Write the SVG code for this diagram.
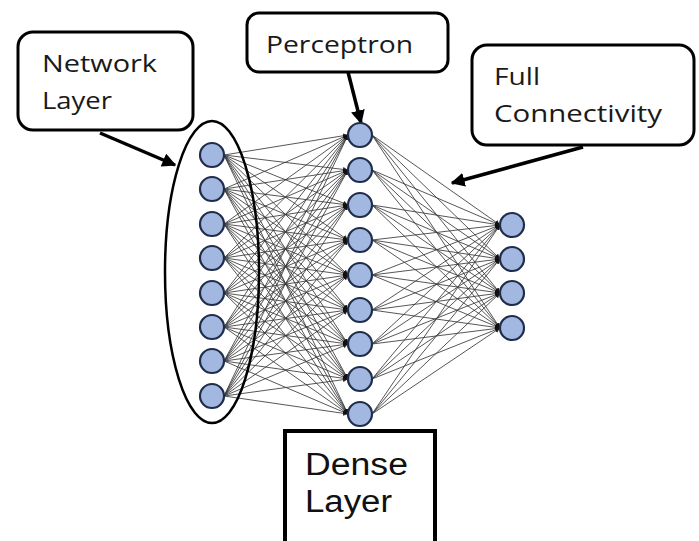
<svg xmlns="http://www.w3.org/2000/svg" width="699" height="541" viewBox="0 0 699 541">
<style>
.box{fill:#fff;stroke:#000;stroke-width:3}
.lbl{font-family:"Open Sans","Liberation Sans",sans-serif;font-size:24px;fill:#1a1a1a}
.big{font-family:"Liberation Sans","Open Sans",sans-serif;font-size:31px;fill:#111}
.node{fill:#a3b8e0;stroke:#1f2d4a;stroke-width:2.2}
.e{stroke:#3a3a3a;stroke-width:1;opacity:0.85;marker-end:url(#tip)}
.ptr{stroke:#000;stroke-width:3.5;fill:none;marker-end:url(#arr)}
</style>
<defs>
<marker id="tip" viewBox="0 0 10 10" refX="10" refY="5" markerWidth="5" markerHeight="5" markerUnits="userSpaceOnUse" orient="auto"><path d="M0,0L10,5L0,10z" fill="#111"/></marker>
<marker id="arr" viewBox="0 0 10 10" refX="9" refY="5" markerWidth="4" markerHeight="4" orient="auto"><path d="M0,0L10,5L0,10z" fill="#000"/></marker>
</defs>
<rect width="699" height="541" fill="#fff"/>
<g id="connectors">
<g id="edges12">
<line class="e" x1="224" y1="155" x2="348" y2="135"/><line class="e" x1="224" y1="155" x2="348" y2="170"/><line class="e" x1="224" y1="155" x2="348" y2="205"/><line class="e" x1="224" y1="155" x2="348" y2="240"/><line class="e" x1="224" y1="155" x2="348" y2="275"/><line class="e" x1="224" y1="155" x2="348" y2="310"/><line class="e" x1="224" y1="155" x2="348" y2="344"/><line class="e" x1="224" y1="155" x2="348" y2="379"/><line class="e" x1="224" y1="155" x2="348" y2="414"/>
<line class="e" x1="224" y1="189" x2="348" y2="135"/><line class="e" x1="224" y1="189" x2="348" y2="170"/><line class="e" x1="224" y1="189" x2="348" y2="205"/><line class="e" x1="224" y1="189" x2="348" y2="240"/><line class="e" x1="224" y1="189" x2="348" y2="275"/><line class="e" x1="224" y1="189" x2="348" y2="310"/><line class="e" x1="224" y1="189" x2="348" y2="344"/><line class="e" x1="224" y1="189" x2="348" y2="379"/><line class="e" x1="224" y1="189" x2="348" y2="414"/>
<line class="e" x1="224" y1="224" x2="348" y2="135"/><line class="e" x1="224" y1="224" x2="348" y2="170"/><line class="e" x1="224" y1="224" x2="348" y2="205"/><line class="e" x1="224" y1="224" x2="348" y2="240"/><line class="e" x1="224" y1="224" x2="348" y2="275"/><line class="e" x1="224" y1="224" x2="348" y2="310"/><line class="e" x1="224" y1="224" x2="348" y2="344"/><line class="e" x1="224" y1="224" x2="348" y2="379"/><line class="e" x1="224" y1="224" x2="348" y2="414"/>
<line class="e" x1="224" y1="258" x2="348" y2="135"/><line class="e" x1="224" y1="258" x2="348" y2="170"/><line class="e" x1="224" y1="258" x2="348" y2="205"/><line class="e" x1="224" y1="258" x2="348" y2="240"/><line class="e" x1="224" y1="258" x2="348" y2="275"/><line class="e" x1="224" y1="258" x2="348" y2="310"/><line class="e" x1="224" y1="258" x2="348" y2="344"/><line class="e" x1="224" y1="258" x2="348" y2="379"/><line class="e" x1="224" y1="258" x2="348" y2="414"/>
<line class="e" x1="224" y1="293" x2="348" y2="135"/><line class="e" x1="224" y1="293" x2="348" y2="170"/><line class="e" x1="224" y1="293" x2="348" y2="205"/><line class="e" x1="224" y1="293" x2="348" y2="240"/><line class="e" x1="224" y1="293" x2="348" y2="275"/><line class="e" x1="224" y1="293" x2="348" y2="310"/><line class="e" x1="224" y1="293" x2="348" y2="344"/><line class="e" x1="224" y1="293" x2="348" y2="379"/><line class="e" x1="224" y1="293" x2="348" y2="414"/>
<line class="e" x1="224" y1="327" x2="348" y2="135"/><line class="e" x1="224" y1="327" x2="348" y2="170"/><line class="e" x1="224" y1="327" x2="348" y2="205"/><line class="e" x1="224" y1="327" x2="348" y2="240"/><line class="e" x1="224" y1="327" x2="348" y2="275"/><line class="e" x1="224" y1="327" x2="348" y2="310"/><line class="e" x1="224" y1="327" x2="348" y2="344"/><line class="e" x1="224" y1="327" x2="348" y2="379"/><line class="e" x1="224" y1="327" x2="348" y2="414"/>
<line class="e" x1="224" y1="361" x2="348" y2="135"/><line class="e" x1="224" y1="361" x2="348" y2="170"/><line class="e" x1="224" y1="361" x2="348" y2="205"/><line class="e" x1="224" y1="361" x2="348" y2="240"/><line class="e" x1="224" y1="361" x2="348" y2="275"/><line class="e" x1="224" y1="361" x2="348" y2="310"/><line class="e" x1="224" y1="361" x2="348" y2="344"/><line class="e" x1="224" y1="361" x2="348" y2="379"/><line class="e" x1="224" y1="361" x2="348" y2="414"/>
<line class="e" x1="224" y1="396" x2="348" y2="135"/><line class="e" x1="224" y1="396" x2="348" y2="170"/><line class="e" x1="224" y1="396" x2="348" y2="205"/><line class="e" x1="224" y1="396" x2="348" y2="240"/><line class="e" x1="224" y1="396" x2="348" y2="275"/><line class="e" x1="224" y1="396" x2="348" y2="310"/><line class="e" x1="224" y1="396" x2="348" y2="344"/><line class="e" x1="224" y1="396" x2="348" y2="379"/><line class="e" x1="224" y1="396" x2="348" y2="414"/>
</g>
<g id="edges23">
<line class="e" x1="372" y1="135" x2="500" y2="225"/><line class="e" x1="372" y1="135" x2="500" y2="259"/><line class="e" x1="372" y1="135" x2="500" y2="293"/><line class="e" x1="372" y1="135" x2="500" y2="328"/>
<line class="e" x1="372" y1="170" x2="500" y2="225"/><line class="e" x1="372" y1="170" x2="500" y2="259"/><line class="e" x1="372" y1="170" x2="500" y2="293"/><line class="e" x1="372" y1="170" x2="500" y2="328"/>
<line class="e" x1="372" y1="205" x2="500" y2="225"/><line class="e" x1="372" y1="205" x2="500" y2="259"/><line class="e" x1="372" y1="205" x2="500" y2="293"/><line class="e" x1="372" y1="205" x2="500" y2="328"/>
<line class="e" x1="372" y1="240" x2="500" y2="225"/><line class="e" x1="372" y1="240" x2="500" y2="259"/><line class="e" x1="372" y1="240" x2="500" y2="293"/><line class="e" x1="372" y1="240" x2="500" y2="328"/>
<line class="e" x1="372" y1="275" x2="500" y2="225"/><line class="e" x1="372" y1="275" x2="500" y2="259"/><line class="e" x1="372" y1="275" x2="500" y2="293"/><line class="e" x1="372" y1="275" x2="500" y2="328"/>
<line class="e" x1="372" y1="310" x2="500" y2="225"/><line class="e" x1="372" y1="310" x2="500" y2="259"/><line class="e" x1="372" y1="310" x2="500" y2="293"/><line class="e" x1="372" y1="310" x2="500" y2="328"/>
<line class="e" x1="372" y1="344" x2="500" y2="225"/><line class="e" x1="372" y1="344" x2="500" y2="259"/><line class="e" x1="372" y1="344" x2="500" y2="293"/><line class="e" x1="372" y1="344" x2="500" y2="328"/>
<line class="e" x1="372" y1="379" x2="500" y2="225"/><line class="e" x1="372" y1="379" x2="500" y2="259"/><line class="e" x1="372" y1="379" x2="500" y2="293"/><line class="e" x1="372" y1="379" x2="500" y2="328"/>
<line class="e" x1="372" y1="414" x2="500" y2="225"/><line class="e" x1="372" y1="414" x2="500" y2="259"/><line class="e" x1="372" y1="414" x2="500" y2="293"/><line class="e" x1="372" y1="414" x2="500" y2="328"/>
</g>
<line class="ptr" x1="100" y1="133" x2="175" y2="165"/>
<line class="ptr" x1="348" y1="72" x2="361" y2="123"/>
<line class="ptr" x1="583" y1="147" x2="452" y2="183"/>
</g>
<g id="input-layer">
<ellipse cx="212" cy="272" rx="47" ry="151" fill="none" stroke="#000" stroke-width="2.5"/>
<circle class="node" cx="212" cy="155" r="12"/><circle class="node" cx="212" cy="189" r="12"/><circle class="node" cx="212" cy="224" r="12"/><circle class="node" cx="212" cy="258" r="12"/><circle class="node" cx="212" cy="293" r="12"/><circle class="node" cx="212" cy="327" r="12"/><circle class="node" cx="212" cy="361" r="12"/><circle class="node" cx="212" cy="396" r="12"/>
</g>
<g id="hidden-layer">
<circle class="node" cx="360" cy="135" r="12"/><circle class="node" cx="360" cy="170" r="12"/><circle class="node" cx="360" cy="205" r="12"/><circle class="node" cx="360" cy="240" r="12"/><circle class="node" cx="360" cy="275" r="12"/><circle class="node" cx="360" cy="310" r="12"/><circle class="node" cx="360" cy="344" r="12"/><circle class="node" cx="360" cy="379" r="12"/><circle class="node" cx="360" cy="414" r="12"/>
</g>
<g id="output-layer">
<circle class="node" cx="512" cy="225" r="12"/><circle class="node" cx="512" cy="259" r="12"/><circle class="node" cx="512" cy="293" r="12"/><circle class="node" cx="512" cy="328" r="12"/>
</g>
<g id="network-layer-label">
<rect class="box" x="18" y="32" width="175" height="98" rx="15"/>
<text class="lbl" x="42" y="72" textLength="115" lengthAdjust="spacingAndGlyphs">Network</text>
<text class="lbl" x="42" y="109" textLength="70" lengthAdjust="spacingAndGlyphs">Layer</text>
</g>
<g id="perceptron-label">
<rect class="box" x="247" y="13" width="201" height="59" rx="12"/>
<text class="lbl" x="266" y="53" textLength="147" lengthAdjust="spacingAndGlyphs">Perceptron</text>
</g>
<g id="full-connectivity-label">
<rect class="box" x="472" y="45" width="222" height="100" rx="15"/>
<text class="lbl" x="494" y="85" textLength="46" lengthAdjust="spacingAndGlyphs">Full</text>
<text class="lbl" x="494" y="122" textLength="168" lengthAdjust="spacingAndGlyphs">Connectivity</text>
</g>
<g id="dense-layer-label">
<rect x="285" y="431" width="150" height="125" fill="#fff" stroke="#000" stroke-width="4"/>
<text class="big" x="305" y="475" textLength="103" lengthAdjust="spacingAndGlyphs">Dense</text>
<text class="big" x="305" y="512" textLength="87" lengthAdjust="spacingAndGlyphs">Layer</text>
</g>
</svg>
